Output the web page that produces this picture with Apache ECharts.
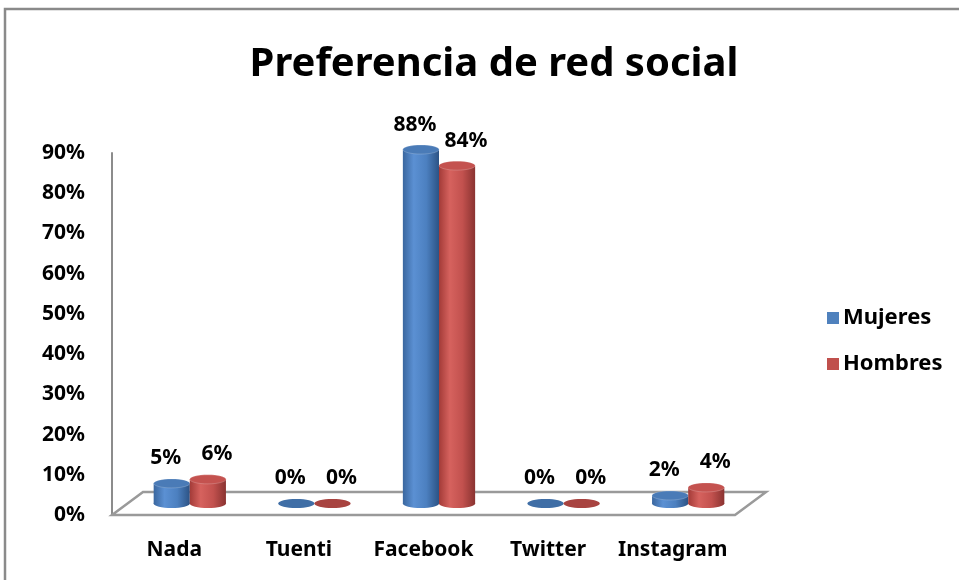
<!DOCTYPE html>
<html><head><meta charset="utf-8">
<script src="https://cdn.jsdelivr.net/npm/echarts@6/dist/echarts.min.js"></script>
<style>html,body{margin:0;padding:0;background:#fff}#c{width:959px;height:580px}</style>
</head><body><div id="c"></div>
<script>
const categories = ['Nada', 'Tuenti', 'Facebook', 'Twitter', 'Instagram'];
const mujeres = [5, 0, 88, 0, 2];
const hombres = [6, 0, 84, 0, 4];
const seriesNames = ['Mujeres', 'Hombres'];
const yMin = 0, yMax = 90, yStep = 10;

const FONT = '"Noto Sans", "DejaVu Sans", sans-serif';
// layout
const L = 112, R = 735, T = 153, B = 515;   // front plane
const DX = 31, DY = -23;                    // depth of floor
const MX = DX / 2, MY = DY / 2;             // bars sit mid-depth

const palettes = [
  { flat: '#4f81bd', top: '#4a7bb7', disc: '#3f6ea6', labelDx: -6,
    stops: ['#3a679f', '#5b90d3', '#4c80c0', '#2c5385'] },
  { flat: '#c0504d', top: '#c4524f', disc: '#a84340', labelDx: 9,
    stops: ['#a33b38', '#d6625e', '#c2514e', '#8a3331'] }
];

function makeRender(si) {
  return function (params, api) {
    const cat = api.value(0), val = api.value(1);
    const base = api.coord([cat, 0]);
    const top = api.coord([cat, val]);
    const band = api.size([1, 0])[0];
    const w = band * 0.29;
    const cx = base[0] + (si === 0 ? -w / 2 : w / 2);
    const x0 = cx - w / 2;
    const ry = 4.5;
    const p = palettes[si];
    const grad = new echarts.graphic.LinearGradient(0, 0, 1, 0, [
      { offset: 0, color: p.stops[0] }, { offset: 0.3, color: p.stops[1] },
      { offset: 0.65, color: p.stops[2] }, { offset: 1, color: p.stops[3] }]);
    const children = [];
    const h = base[1] - top[1];
    if (h > 1) {
      children.push({ type: 'ellipse', shape: { cx: cx, cy: base[1], rx: w / 2, ry: ry }, style: { fill: grad } });
      children.push({ type: 'rect', shape: { x: x0, y: top[1], width: w, height: h }, style: { fill: grad } });
      children.push({ type: 'ellipse', shape: { cx: cx, cy: top[1], rx: w / 2, ry: ry }, style: { fill: p.top, stroke: 'rgba(255,255,255,0.25)', lineWidth: 0.8 } });
    } else {
      children.push({ type: 'ellipse', shape: { cx: cx, cy: base[1], rx: w / 2, ry: ry }, style: { fill: p.disc } });
    }
    children.push({ type: 'text', style: { text: val + '%', x: cx + p.labelDx, y: top[1] - 25, align: 'center', verticalAlign: 'middle',
      font: 'bold 21px ' + FONT, fill: '#000' }, z2: 10 });
    return { type: 'group', children: children };
  };
}

const chart = echarts.init(document.getElementById('c'), null, { renderer: 'canvas' });
chart.setOption({
  animation: false,
  backgroundColor: '#fff',
  title: { text: 'Preferencia de red social', left: 489, top: 40, textAlign: 'center',
    textStyle: { fontFamily: FONT, fontSize: 40, fontWeight: 'bold', color: '#000' } },
  legend: { orient: 'vertical', left: 822, top: 302, itemWidth: 12, itemHeight: 12, itemGap: 24, icon: 'rect',
    data: seriesNames,
    textStyle: { fontFamily: FONT, fontSize: 22, fontWeight: 'bold', color: '#000', padding: [0, 0, 0, -1] } },
  grid: [
    { left: L, top: T, width: R - L, height: B - T },
    { left: L + MX, top: T + MY, width: R - L, height: B - T }
  ],
  xAxis: [
    { type: 'category', data: categories, gridIndex: 0, axisLine: { show: false }, axisTick: { show: false },
      axisLabel: { interval: 0, margin: 25, fontFamily: FONT, fontSize: 21, fontWeight: 'bold', color: '#000' } },
    { type: 'category', data: categories, gridIndex: 1, show: false }
  ],
  yAxis: [
    { type: 'value', gridIndex: 0, min: yMin, max: yMax, interval: yStep, splitLine: { show: false },
      axisLine: { show: true, lineStyle: { color: '#8c8c8c', width: 2 } }, axisTick: { show: false },
      axisLabel: { formatter: '{value}%', margin: 27, fontFamily: FONT, fontSize: 21, fontWeight: 'bold', color: '#000' } },
    { type: 'value', gridIndex: 1, min: yMin, max: yMax, interval: yStep, show: false }
  ],
  graphic: [
    { type: 'rect', shape: { x: 5, y: 9, width: 1000, height: 1000 }, style: { fill: 'none', stroke: '#8a8a8a', lineWidth: 2.5 }, z: 0 },
    { type: 'polygon', shape: { points: [[L, B], [R, B], [R + DX, B + DY], [L + DX, B + DY]] },
      style: { fill: '#fff', stroke: '#9a9a9a', lineWidth: 2.5 }, z: 1 }
  ],
  series: [
    { name: seriesNames[0], type: 'custom', xAxisIndex: 1, yAxisIndex: 1, renderItem: makeRender(0), z: 5,
      itemStyle: { color: palettes[0].flat }, data: mujeres.map((v, i) => [i, v]) },
    { name: seriesNames[1], type: 'custom', xAxisIndex: 1, yAxisIndex: 1, renderItem: makeRender(1), z: 5,
      itemStyle: { color: palettes[1].flat }, data: hombres.map((v, i) => [i, v]) }
  ]
});
</script></body></html>
